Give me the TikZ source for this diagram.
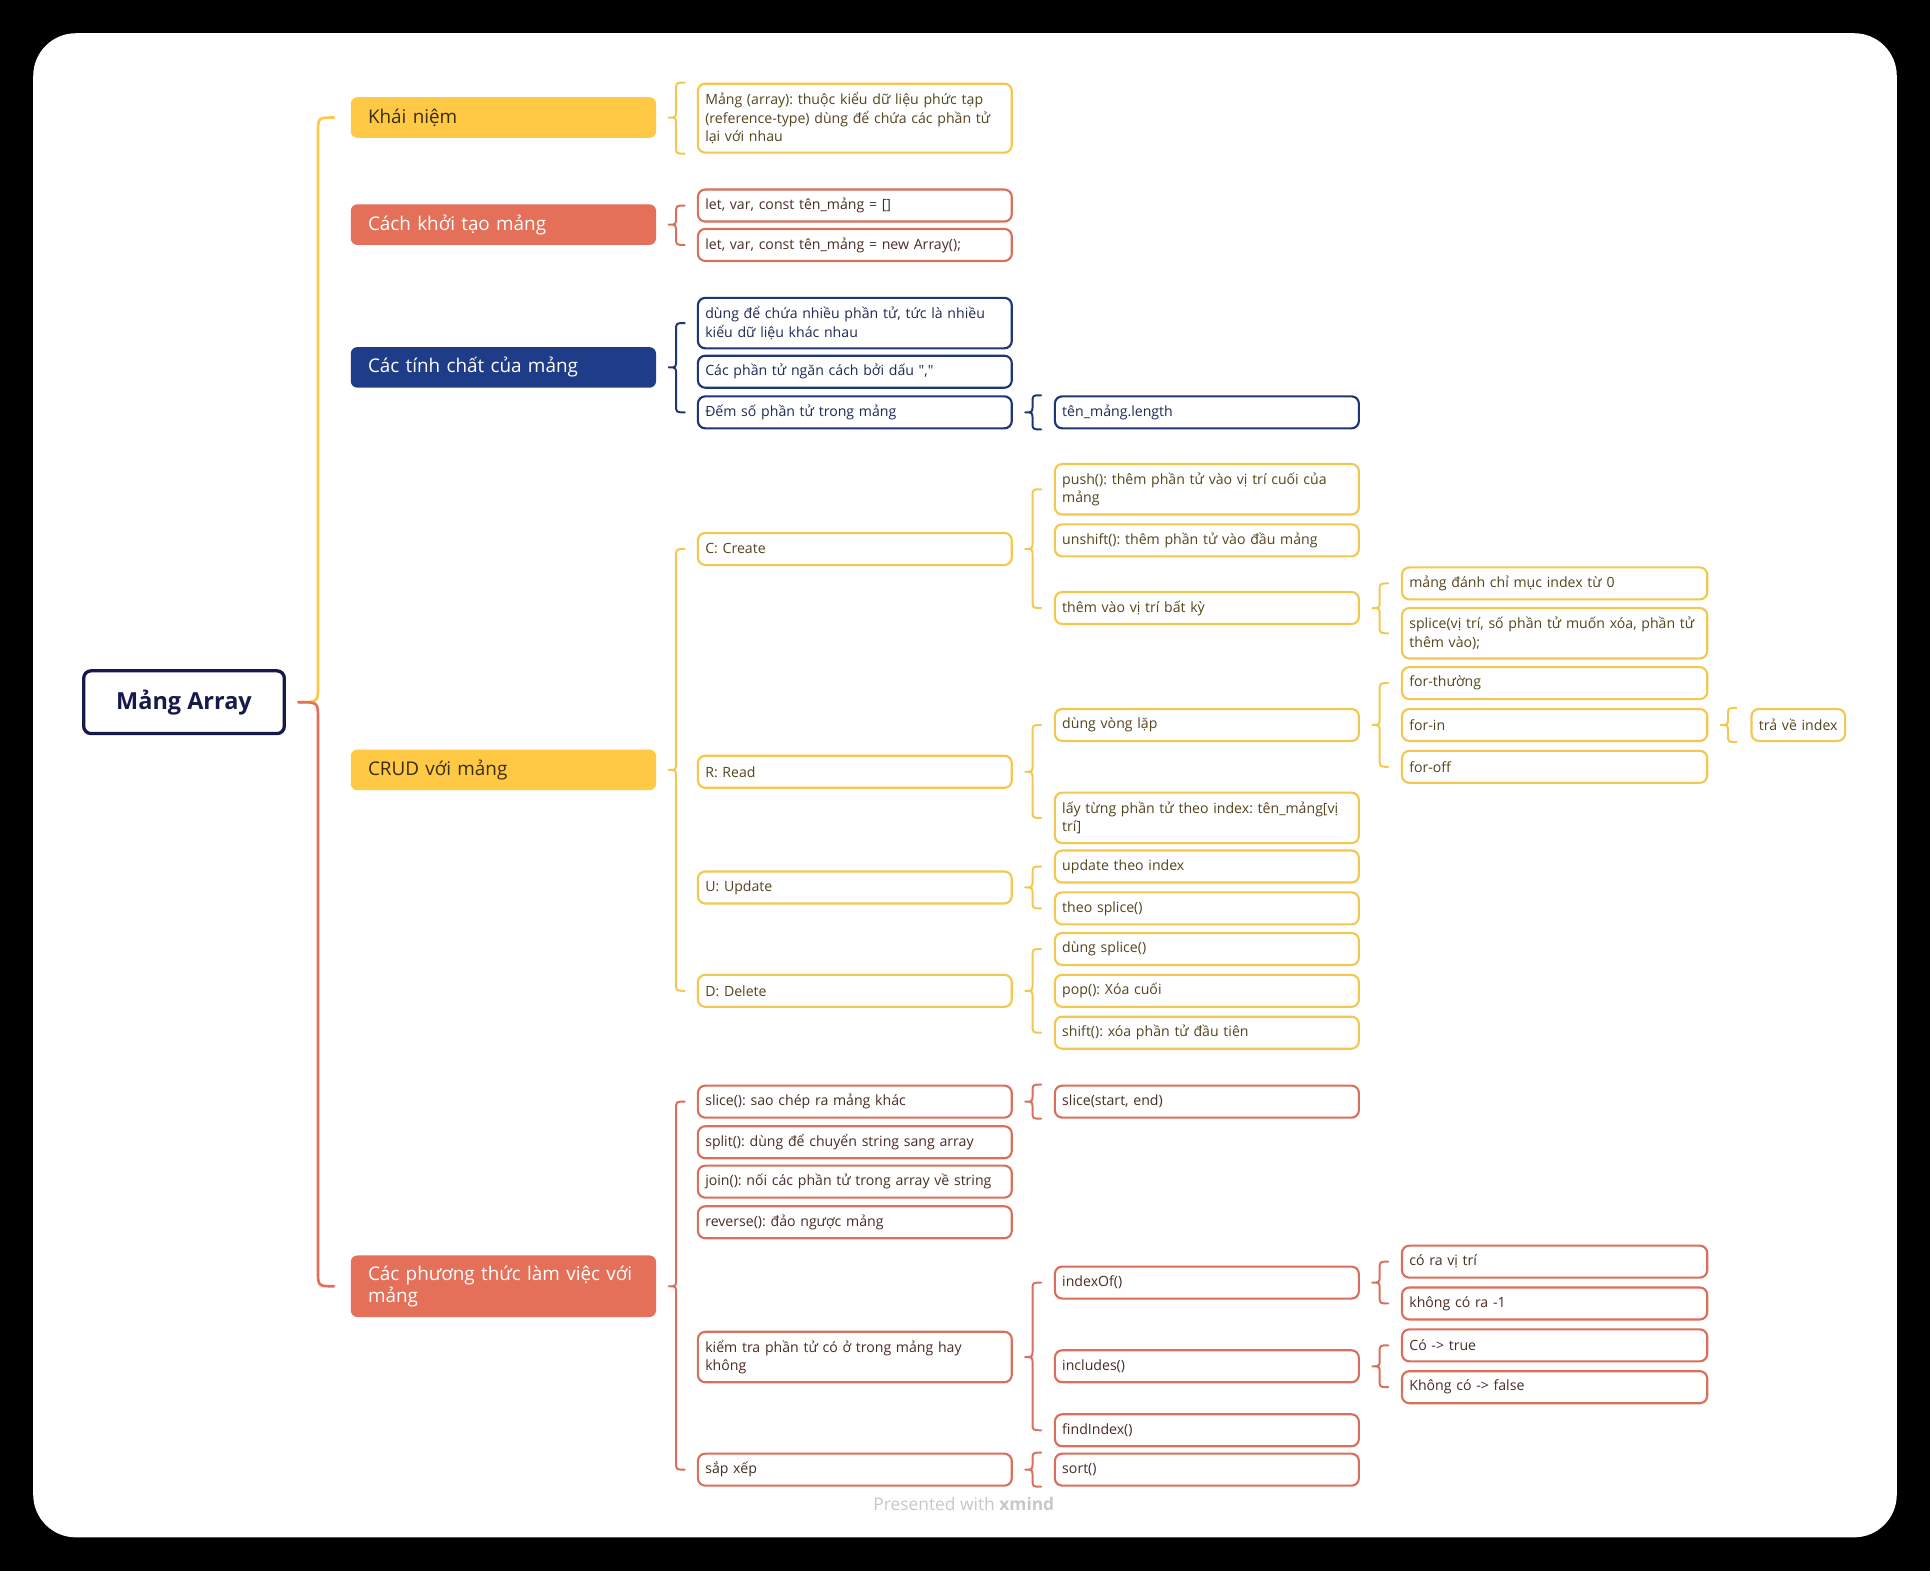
\documentclass[tikz,border=0pt]{standalone}
\usepackage{fontspec}
\setmainfont{Open Sans}
\newfontfamily\plainqf{Open Sans}
\usetikzlibrary{calc}
\frenchspacing
\definecolor{yel}{HTML}{FFC845}
\definecolor{yelb}{HTML}{F4C74E}
\definecolor{red}{HTML}{E5705A}
\definecolor{redb}{HTML}{D9705C}
\definecolor{navy}{HTML}{1F3C88}
\definecolor{navyb}{HTML}{203673}
\definecolor{rootc}{HTML}{16194A}
\definecolor{ytext}{HTML}{54451F}
\definecolor{rtext}{HTML}{4A2C24}
\definecolor{ntext}{HTML}{1E2A55}
\definecolor{mtext}{HTML}{3A2E10}
\definecolor{grayt}{HTML}{C8C8C8}
\newcommand\mybrace[4]{%
 \draw[brc,#1] let \p1=($(#2.east)+(7.5pt,0)$), \p2=(#3), \p3=(#4) in
 ({\x1+9.75pt},\y2) .. controls ({\x1+4.5pt},\y2) .. ({\x1+4.5pt},{\y2-4.5pt})
 -- ({\x1+4.5pt},{\y1+4.5pt}) .. controls ({\x1+4.5pt},\y1) .. (\x1,\y1)
 .. controls ({\x1+4.5pt},\y1) .. ({\x1+4.5pt},{\y1-4.5pt})
 -- ({\x1+4.5pt},{\y3+4.5pt}) .. controls ({\x1+4.5pt},\y3) .. ({\x1+9.75pt},\y3);}
\begin{document}
\begin{tikzpicture}[x=0.75pt,y=-0.75pt,
 box/.style={rectangle, rounded corners=4.5pt, fill=white, line width=1.3pt, align=left, inner ysep=2pt, font=\fontsize{8.6}{11.25}\selectfont},
 l2/.style={box, inner xsep=4.5pt, text width=182.25pt},
 l3/.style={box, inner xsep=4.5pt, text width=176.25pt},
 l4/.style={box, inner xsep=4.5pt, text width=177pt},
 l5/.style={box, inner xsep=4.5pt, text width=48pt},
 h1/.style={minimum height=19.5pt},
 h2/.style={minimum height=30.75pt},
 h3/.style={minimum height=42pt},
 yb/.style={draw=yelb, text=ytext},
 rb/.style={draw=redb, text=rtext},
 nb/.style={draw=navyb, text=ntext},
 main/.style={rectangle, rounded corners=4pt, inner xsep=10.5pt, text width=165pt, align=left, minimum height=24.75pt, font=\fontsize{11.5}{13.5}\selectfont},
 brc/.style={line width=1.2pt, line cap=round, line join=round}
]
\useasboundingbox (0,0) rectangle (1568,1276);
\fill[black] (0,0) rectangle (1568,1276);
\fill[white, rounded corners=26pt] (27,27) rectangle (1541,1249);

% root
\node[rectangle, rounded corners=4.5pt, draw=rootc, line width=2pt, minimum width=122.25pt, minimum height=38.25pt, text=rootc, font=\fontsize{14.3}{16}\selectfont\bfseries] (root) at (149.5,570.5) {Mảng Array};

% main branches
\node[main, fill=yel, text=mtext] (k1) at (409,95.5) {Khái niệm};
\node[main, fill=red, text=white] (k2) at (409,182.5) {Cách khởi tạo mảng};
\node[main, fill=navy, text=white] (k3) at (409,298.5) {Các tính chất của mảng};
\node[main, fill=yel, text=mtext] (k4) at (409,625.5) {CRUD với mảng};
\node[main, fill=red, text=white, minimum height=37.5pt] (k5) at (409,1045) {Các phương thức làm việc với\\mảng};

% main brace
\draw[brc, yel, line width=1.6pt] let \p1=($(root.east)+(7.5pt,0)$), \p2=(k1.west) in
 (\x1,\y1) .. controls ({\x1+12pt},\y1) .. ({\x1+12pt},{\y1+9.75pt}) -- ({\x1+12pt},{\y2-9.75pt}) .. controls ({\x1+12pt},\y2) .. ({\x1+21.75pt},\y2);
\draw[brc, red, line width=1.6pt] let \p1=($(root.east)+(7.5pt,0)$), \p2=(k5.west) in
 (\x1,\y1) .. controls ({\x1+12pt},\y1) .. ({\x1+12pt},{\y1-9.75pt}) -- ({\x1+12pt},{\y2+9.75pt}) .. controls ({\x1+12pt},\y2) .. ({\x1+21.75pt},\y2);

% level 2
\node[l2, yb, h3] (a1) at (694.5,96) {Mảng (array): thuộc kiểu dữ liệu phức tạp\\(reference-type) dùng để chứa các phần tử\\lại với nhau};
\node[l2, rb, h1] (b1) at (694.5,167) {let, var, const tên\_mảng = []};
\node[l2, rb, h1] (b2) at (694.5,199) {let, var, const tên\_mảng = new Array();};
\node[l2, nb, h2] (c1) at (694.5,262.5) {dùng để chứa nhiều phần tử, tức là nhiều\\kiểu dữ liệu khác nhau};
\node[l2, nb, h1] (c2) at (694.5,302) {Các phần tử ngăn cách bởi dấu {\plainqf","}};
\node[l2, nb, h1] (c3) at (694.5,335) {Đếm số phần tử trong mảng};
\node[l2, yb, h1] (d1) at (694.5,446) {C: Create};
\node[l2, yb, h1] (d2) at (694.5,627) {R: Read};
\node[l2, yb, h1] (d3) at (694.5,721) {U: Update};
\node[l2, yb, h1] (d4) at (694.5,805) {D: Delete};
\node[l2, rb, h1] (e1) at (694.5,895) {slice(): sao chép ra mảng khác};
\node[l2, rb, h1] (e2) at (694.5,928) {split(): dùng để chuyển string sang array};
\node[l2, rb, h1] (e3) at (694.5,960) {join(): nối các phần tử trong array về string};
\node[l2, rb, h1] (e4) at (694.5,993) {reverse(): đảo ngược mảng};
\node[l2, rb, h2] (e5) at (694.5,1102.5) {kiểm tra phần tử có ở trong mảng hay\\không};
\node[l2, rb, h1] (e6) at (694.5,1194) {sắp xếp};

% level 3
\node[l3, nb, h1] (c3a) at (980.5,335) {tên\_mảng.length};
\node[l3, yb, h2] (d1a) at (980.5,397.5) {push(): thêm phần tử vào vị trí cuối của\\mảng};
\node[l3, yb, h1] (d1b) at (980.5,439) {unshift(): thêm phần tử vào đầu mảng};
\node[l3, yb, h1] (d1c) at (980.5,494) {thêm vào vị trí bất kỳ};
\node[l3, yb, h1] (d2a) at (980.5,589) {dùng vòng lặp};
\node[l3, yb, h2] (d2b) at (980.5,664.5) {lấy từng phần tử theo index: tên\_mảng[vị\\trí]};
\node[l3, yb, h1] (d3a) at (980.5,704) {update theo index};
\node[l3, yb, h1] (d3b) at (980.5,738) {theo splice()};
\node[l3, yb, h1] (d4a) at (980.5,771) {dùng splice()};
\node[l3, yb, h1] (d4b) at (980.5,805) {pop(): Xóa cuối};
\node[l3, yb, h1] (d4c) at (980.5,839) {shift(): xóa phần tử đầu tiên};
\node[l3, rb, h1] (e1a) at (980.5,895) {slice(start, end)};
\node[l3, rb, h1] (e5a) at (980.5,1042) {indexOf()};
\node[l3, rb, h1] (e5b) at (980.5,1110) {includes()};
\node[l3, rb, h1] (e5c) at (980.5,1162) {findIndex()};
\node[l3, rb, h1] (e6a) at (980.5,1194) {sort()};

% level 4
\node[l4, yb, h1] (d1c1) at (1263,474) {mảng đánh chỉ mục index từ 0};
\node[l4, yb, h2] (d1c2) at (1263,514.5) {splice(vị trí, số phần tử muốn xóa, phần tử\\thêm vào);};
\node[l4, yb, h1] (d2a1) at (1263,555) {for-thường};
\node[l4, yb, h1] (d2a2) at (1263,589) {for-in};
\node[l4, yb, h1] (d2a3) at (1263,623) {for-off};
\node[l4, rb, h1] (e5a1) at (1263,1025) {có ra vị trí};
\node[l4, rb, h1] (e5a2) at (1263,1059) {không có ra -1};
\node[l4, rb, h1] (e5b1) at (1263,1093) {Có -> true};
\node[l4, rb, h1] (e5b2) at (1263,1127) {Không có -> false};

% level 5
\node[l5, yb, h1] (d2a2a) at (1461,589) {trả về index};

% braces
\mybrace{yelb}{k1}{a1.north}{a1.south}
\mybrace{redb}{k2}{b1}{b2}
\mybrace{navyb}{k3}{c1}{c3}
\mybrace{navyb}{c3}{c3a.north}{c3a.south}
\mybrace{yelb}{k4}{d1}{d4}
\mybrace{yelb}{d1}{d1a}{d1c}
\mybrace{yelb}{d1c}{d1c1}{d1c2}
\mybrace{yelb}{d2}{d2a}{d2b}
\mybrace{yelb}{d2a}{d2a1}{d2a3}
\mybrace{yelb}{d2a2}{d2a2a.north}{d2a2a.south}
\mybrace{yelb}{d3}{d3a}{d3b}
\mybrace{yelb}{d4}{d4a}{d4c}
\mybrace{redb}{k5}{e1}{e6}
\mybrace{redb}{e1}{e1a.north}{e1a.south}
\mybrace{redb}{e5}{e5a}{e5c}
\mybrace{redb}{e5a}{e5a1}{e5a2}
\mybrace{redb}{e5b}{e5b1}{e5b2}
\mybrace{redb}{e6}{e6a.north}{e6a.south}

\node[text=grayt, font=\fontsize{10.6}{12}\selectfont] (footer) at (783,1222) {Presented with \textbf{xmind}};
\end{tikzpicture}
\end{document}
